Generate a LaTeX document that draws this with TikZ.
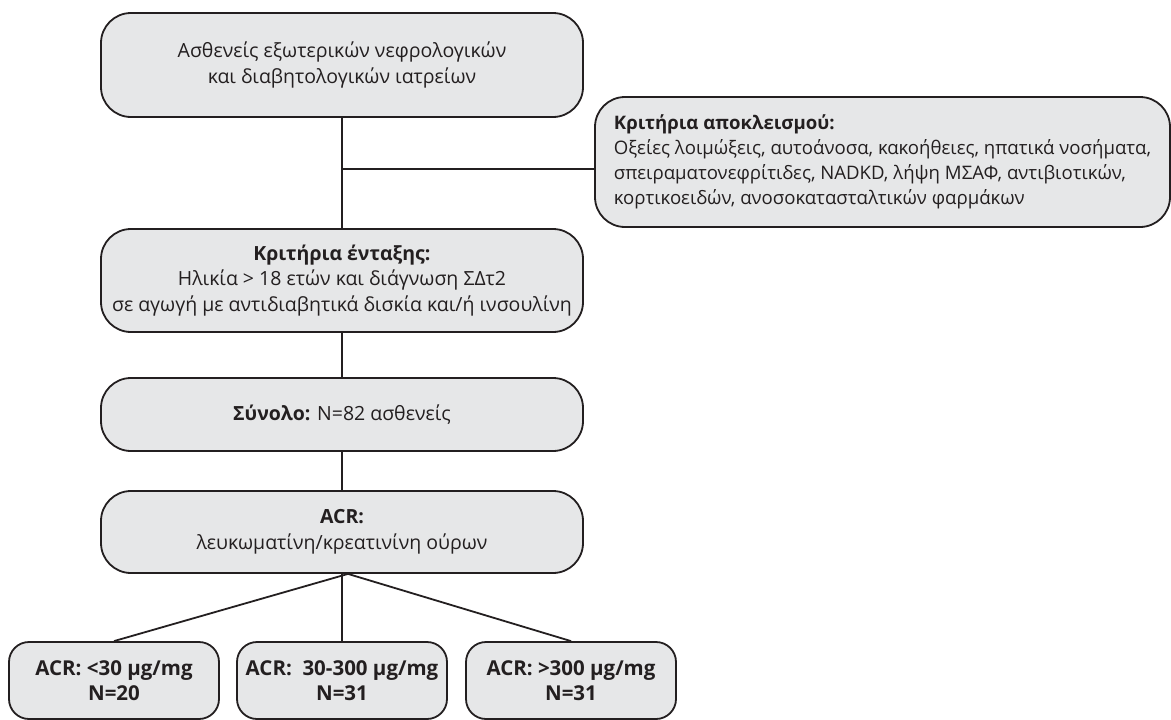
\documentclass[tikz,border=0pt]{standalone}
\usepackage{fontspec}
\setmainfont{Open Sans}
\definecolor{boxfill}{HTML}{E6E7E8}
\definecolor{boxline}{HTML}{231F20}
\tikzset{every path/.style={boxline,line width=1.8pt},
  flowbox/.style={draw=boxline,fill=boxfill,rounded corners=30pt,align=center,font=\fontsize{19.5}{25.5}\selectfont},
  acrbox/.style={flowbox,rounded corners=20pt,minimum width=210pt,minimum height=77pt,font=\bfseries\fontsize{20.5}{25.5}\selectfont}}

\begin{document}
\begin{tikzpicture}[x=1pt,y=-1pt]
   \useasboundingbox (0,0) rectangle (1171,720);
   \node[flowbox,minimum width=482pt,minimum height=104pt] (patients) at (342,65) {Ασθενείς εξωτερικών νεφρολογικών\\και διαβητολογικών ιατρείων};
   \node[flowbox,minimum width=575pt,minimum height=130pt,align=left,font=\fontsize{18.6}{25}\selectfont] (exclusion) at (882.5,162) {\textbf{Κριτήρια αποκλεισμού:}\\Οξείες λοιμώξεις, αυτοάνοσα, κακοήθειες, ηπατικά νοσήματα,\\σπειραματονεφρίτιδες, NADKD, λήψη ΜΣΑΦ, αντιβιοτικών,\\κορτικοειδών, ανοσοκατασταλτικών φαρμάκων};
   \node[flowbox,minimum width=482pt,minimum height=103pt] (inclusion) at (342,280.5) {\textbf{Κριτήρια ένταξης:}\\Ηλικία > 18 ετών και διάγνωση ΣΔτ2\\σε αγωγή με αντιδιαβητικά δισκία και/ή ινσουλίνη};
   \node[flowbox,minimum width=482pt,minimum height=73pt] (total) at (342,414.5) {\textbf{Σύνολο:} N=82 ασθενείς};
   \node[flowbox,minimum width=482pt,minimum height=82pt] (acr) at (342,532) {\textbf{ACR:}\\λευκωματίνη/κρεατινίνη ούρων};
   \node[acrbox] (acrlow) at (114,680.5) {ACR: <30 μg/mg\\N=20};
   \node[acrbox] (acrmid) at (342,680.5) {ACR:\ \ 30-300 μg/mg\\N=31};
   \node[acrbox] (acrhigh) at (571,680.5) {ACR: >300 μg/mg\\N=31};
   \coordinate (split) at ([xshift=6pt]acr.south);
   \coordinate (branch) at ([yshift=-7pt]exclusion.west);
   \draw (patients.south) -- (inclusion.north);
   \draw (patients.south |- branch) -- (branch);
   \draw (inclusion.south) -- (total.north);
   \draw (total.south) -- (acr.north);
   \draw (acr.south) -- (acrmid.north);
   \draw (acrlow.north) -- (split) -- (acrhigh.north);
  \end{tikzpicture}
\end{document}
